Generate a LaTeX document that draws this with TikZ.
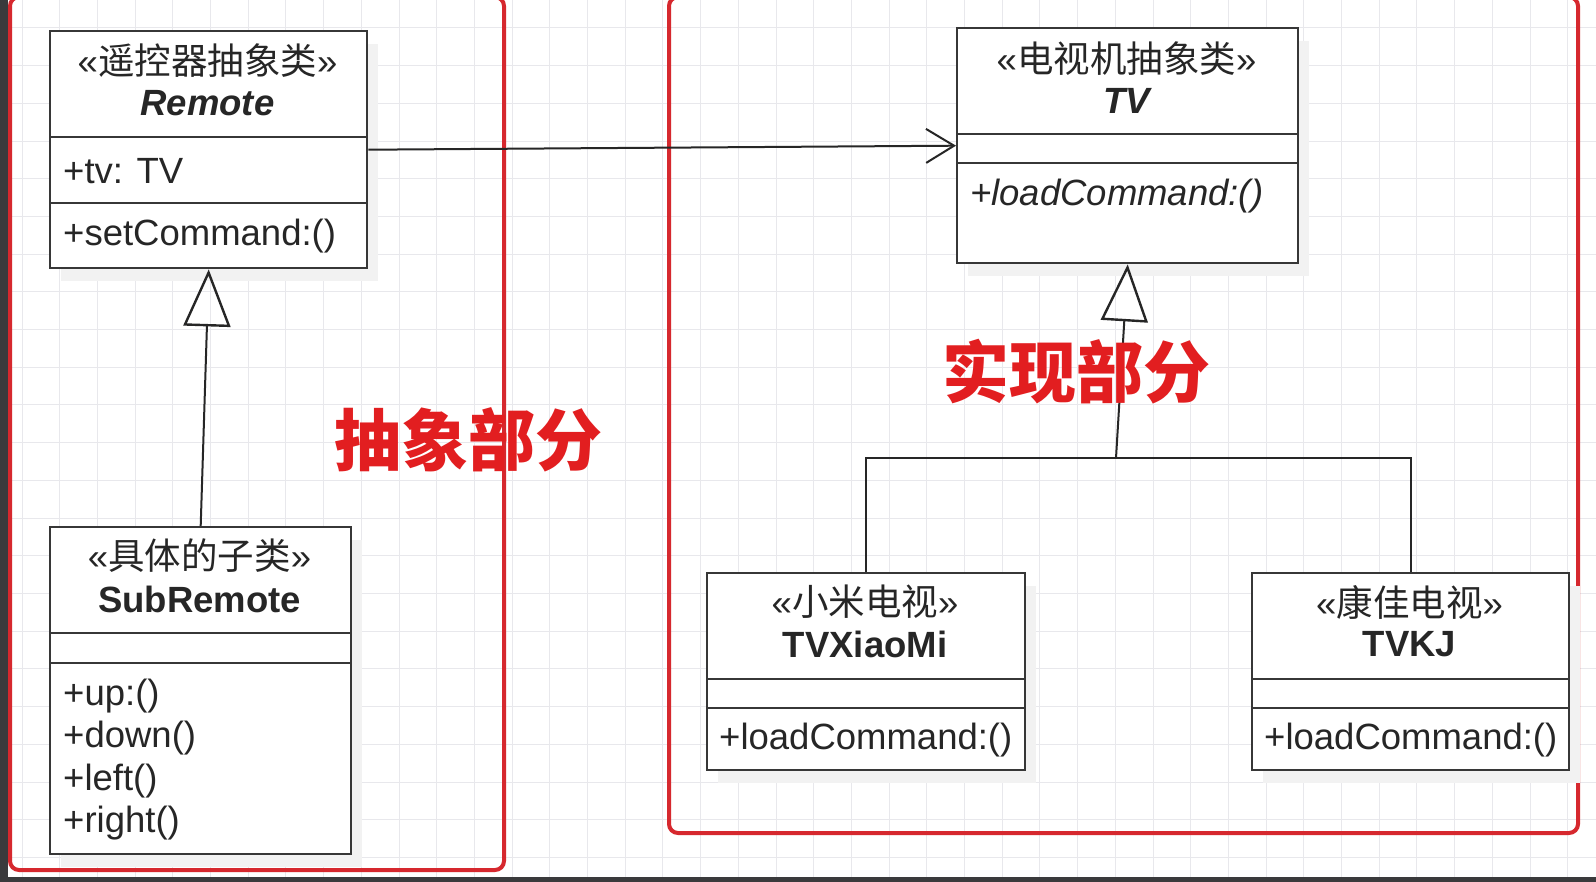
\documentclass[tikz,border=0pt]{standalone}
\usepackage{fontspec}
\setmainfont{Liberation Sans}
\newfontfamily\cjk{Noto Sans CJK SC}
\usetikzlibrary{arrows.meta,calc}
\definecolor{framered}{RGB}{214,40,46}
\definecolor{labred}{RGB}{226,30,32}
\definecolor{boxline}{RGB}{55,55,55}
\definecolor{gridc}{RGB}{232,232,236}
\definecolor{darkstrip}{RGB}{58,58,60}
\tikzset{
  umlbox/.style={draw=boxline, line width=2.4pt, fill=white, anchor=north west, inner sep=0pt},
  boxshadow/.style={fill=black!5},
  sep/.style={draw=boxline, line width=2.4pt},
  txt/.style={inner sep=0pt, font=\fontsize{36.5}{40}\selectfont, text=black!85},
  ltxt/.style={txt, anchor=west},
  frame/.style={draw=framered, line width=4pt, rounded corners=9pt},
  assoc/.style={draw=black!85, line width=2pt, -{Straight Barb[length=28pt,width=34pt,line width=2pt]}},
  inherit/.style={draw=black!85, line width=2pt, -{Triangle[open,length=57pt,width=47pt,line width=2.4pt]}},
  tree/.style={draw=black!85, line width=2pt},
  lab/.style={inner sep=0pt, font=\cjk\bfseries\fontsize{67}{70}\selectfont},
  gridline/.style={draw=gridc, line width=1pt},
}
\begin{document}
\begin{tikzpicture}[x=1pt,y=-1pt]
\useasboundingbox (0,0) rectangle (1596,882);
\fill[white] (0,0) rectangle (1596,882);
\foreach \k in {0,...,42} { \draw[gridline] (22+37.7*\k,0) -- (22+37.7*\k,882); }
\foreach \k in {0,...,23} { \draw[gridline] (0,28+37.7*\k) -- (1596,28+37.7*\k); }
% dark strips
\fill[darkstrip] (0,0) rectangle (8,882);
\fill[darkstrip] (0,877) rectangle (1596,882);
% frames
\draw[frame] (10,-3) rectangle (504,870);
\draw[frame] (669,-3) rectangle (1578,833);

% ---------- Remote ----------
\fill[boxshadow] (61,44) rectangle (378,281);
\node[umlbox, minimum width=317pt, minimum height=237pt] (remote) at (49,30) {};
\draw[sep] (remote.west |- 0,137) -- (remote.east |- 0,137);
\draw[sep] (remote.west |- 0,203) -- (remote.east |- 0,203);
\node[txt] (remoteSt) at (207.5,61) {«{\cjk 遥控器抽象类}»};
\node[txt, font=\bfseries\itshape\fontsize{36.5}{40}\selectfont] (remoteName) at (207.5,103) {Remote};
\node[ltxt] (remoteAttr) at (63,171) {+tv: TV};
\node[ltxt] (remoteOp) at (63,236) {+setCommand:()};

% ---------- SubRemote ----------
\fill[boxshadow] (61,540) rectangle (362,867);
\node[umlbox, minimum width=301pt, minimum height=327pt] (sub) at (49,526) {};
\draw[sep] (sub.west |- 0,633) -- (sub.east |- 0,633);
\draw[sep] (sub.west |- 0,663) -- (sub.east |- 0,663);
\node[txt] (subSt) at (199.5,556) {«{\cjk 具体的子类}»};
\node[txt, font=\bfseries\fontsize{36.5}{40}\selectfont] (subName) at (199.5,599) {SubRemote};
\node[ltxt] (subUp) at (63,696) {+up:()};
\node[ltxt] (subDown) at (63,738) {+down()};
\node[ltxt] (subLeft) at (63,781) {+left()};
\node[ltxt] (subRight) at (63,823) {+right()};

% ---------- TV ----------
\fill[boxshadow] (968,41) rectangle (1309,276);
\node[umlbox, minimum width=341pt, minimum height=235pt] (tv) at (956,27) {};
\draw[sep] (tv.west |- 0,134) -- (tv.east |- 0,134);
\draw[sep] (tv.west |- 0,163) -- (tv.east |- 0,163);
\node[txt] (tvSt) at (1126.5,59) {«{\cjk 电视机抽象类}»};
\node[txt, font=\bfseries\itshape\fontsize{36.5}{40}\selectfont] (tvName) at (1126.5,101) {TV};
\node[ltxt, font=\itshape\fontsize{36.5}{40}\selectfont] (tvOp) at (970,196) {+loadCommand:()};

% ---------- TVXiaoMi ----------
\fill[boxshadow] (718,586) rectangle (1036,783);
\node[umlbox, minimum width=318pt, minimum height=197pt] (xiaomi) at (706,572) {};
\draw[sep] (xiaomi.west |- 0,679) -- (xiaomi.east |- 0,679);
\draw[sep] (xiaomi.west |- 0,708) -- (xiaomi.east |- 0,708);
\node[txt] (xiaomiSt) at (865,602) {«{\cjk 小米电视}»};
\node[txt, font=\bfseries\fontsize{36.5}{40}\selectfont] (xiaomiName) at (865,644) {TVXiaoMi};
\node[ltxt] (xiaomiOp) at (719,740) {+loadCommand:()};

% ---------- TVKJ ----------
\fill[boxshadow] (1263,586) rectangle (1580,783);
\node[umlbox, minimum width=317pt, minimum height=197pt] (kj) at (1251,572) {};
\draw[sep] (kj.west |- 0,679) -- (kj.east |- 0,679);
\draw[sep] (kj.west |- 0,708) -- (kj.east |- 0,708);
\node[txt] (kjSt) at (1409.5,602) {«{\cjk 康佳电视}»};
\node[txt, font=\bfseries\fontsize{36.5}{40}\selectfont] (kjName) at (1409.5,644) {TVKJ};
\node[ltxt] (kjOp) at (1264,740) {+loadCommand:()};

% ---------- connectors ----------
\draw[assoc] (remote.east) -- (tv.west);
\draw[inherit] (sub.north) -- (remote.south);
\coordinate (bar) at (1116,458);
\draw[tree] (xiaomi.north) |- (bar) -| (kj.north);
\draw[inherit] (bar) -- (tv.south);

% ---------- red labels ----------
\node[lab, text=labred] (absLabel) at (468,440) {抽象部分};
\node[lab, text=labred] (impLabel) at (1076,372) {实现部分};
\end{tikzpicture}
\end{document}
